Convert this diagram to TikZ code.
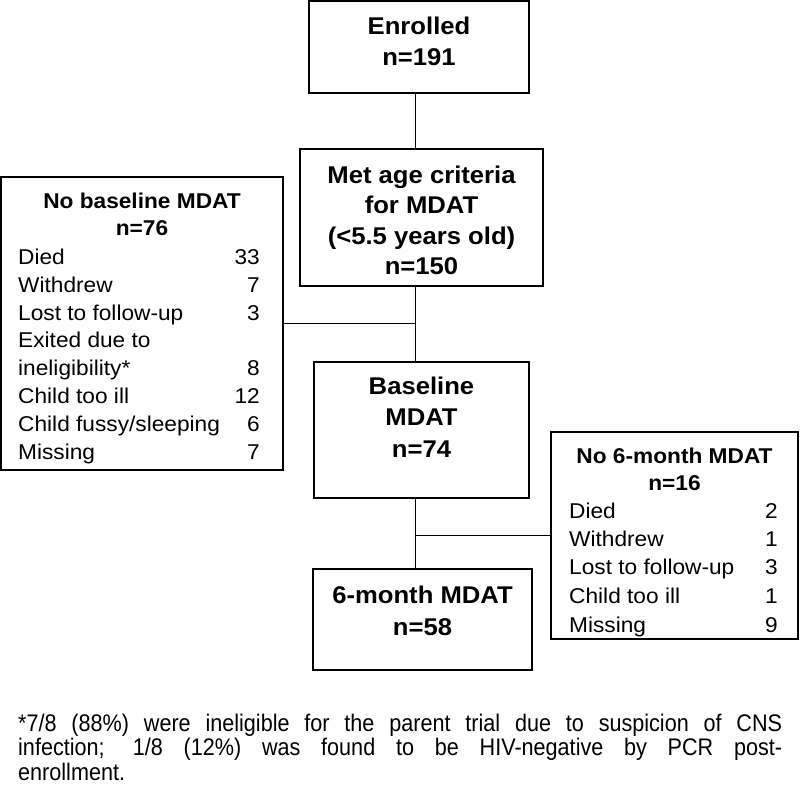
\documentclass[tikz,border=0pt]{standalone}
\usepackage{fontspec}
\setmainfont{Liberation Sans}[FakeStretch=1.06]
\newfontfamily\footfont{Liberation Sans}[FakeStretch=0.9]
\begin{document}
\begin{tikzpicture}[x=1pt,y=-1pt,
  box/.style={draw, line width=1.9pt, inner sep=0pt},
  conn/.style={line width=1.9pt},
  maintxt/.style={font=\fontsize{24.2}{29}\bfseries\selectfont, anchor=base, inner sep=0pt},
  sidetitle/.style={font=\fontsize{21.4}{28}\bfseries\selectfont, anchor=base, inner sep=0pt},
  sideitem/.style={font=\fontsize{21.4}{28}\selectfont, anchor=base west, inner sep=0pt},
  sidenum/.style={font=\fontsize{21.4}{28}\selectfont, anchor=base east, inner sep=0pt},
  foot/.style={font=\footfont\fontsize{24}{24}\selectfont, anchor=base west, inner sep=0pt}]
\useasboundingbox (0,0) rectangle (800,785);

% boxes
\node[box, minimum width=220pt, minimum height=92pt] (enr) at (419,47) {};
\node[box, minimum width=243pt, minimum height=137pt] (met) at (421.5,217.5) {};
\node[box, minimum width=282pt, minimum height=293pt] (left) at (142,323.5) {};
\node[box, minimum width=215pt, minimum height=136pt] (base) at (421.5,430) {};
\node[box, minimum width=219pt, minimum height=101pt] (six) at (422.5,619.5) {};
\node[box, minimum width=247pt, minimum height=207pt] (right) at (674.5,535.5) {};

% connectors
\coordinate (sp) at (415.5,0);
\draw[conn] (enr.south -| sp) -- (met.north -| sp);
\draw[conn] (met.south -| sp) -- (base.north -| sp);
\draw[conn] (left.east) -- (left.east -| sp);
\draw[conn] (base.south -| sp) -- (six.north -| sp);
\draw[conn] (right.west) -- (right.west -| sp);

% main box texts
\node[maintxt] (enr1) at (419,34) {Enrolled};
\node[maintxt] (enr2) at (419,65) {n=191};
\node[maintxt] (met1) at (421.5,183) {Met age criteria};
\node[maintxt] (met2) at (421.5,213.5) {for MDAT};
\node[maintxt] (met3) at (421.5,244) {(<5.5 years old)};
\node[maintxt] (met4) at (421.5,274.5) {n=150};
\node[maintxt] (bas1) at (421.5,394) {Baseline};
\node[maintxt] (bas2) at (421.5,425) {MDAT};
\node[maintxt] (bas3) at (421.5,457) {n=74};
\node[maintxt] (six1) at (422.5,603) {6-month MDAT};
\node[maintxt] (six2) at (422.5,635) {n=58};

% left side box
\node[sidetitle] (lt1) at (142,208) {No baseline MDAT};
\node[sidetitle] (lt2) at (142,235.5) {n=76};
\foreach \t/\v/\y in {Died/33/264, Withdrew/7/292, Lost to follow-up/3/320,
    Exited due to//347.5, ineligibility*/8/375.5, Child too ill/12/403,
    {Child fussy\slash sleeping}/6/431, Missing/7/459}{
  \node[sideitem] (li\y) at (18,\y) {\t};
  \node[sidenum] (ln\y) at (260,\y) {\v};
}

% right side box
\node[sidetitle] (rt1) at (674.5,463) {No 6-month MDAT};
\node[sidetitle] (rt2) at (674.5,490.5) {n=16};
\foreach \t/\v/\y in {Died/2/518.5, Withdrew/1/546.5, Lost to follow-up/3/574.5,
    Child too ill/1/603, Missing/9/632}{
  \node[sideitem] (ri\y) at (569,\y) {\t};
  \node[sidenum] (rn\y) at (778,\y) {\v};
}

% footnote
\node[foot] (f1) at (18,731) {\makebox[764pt][s]{*7/8 (88\%) were ineligible for the parent trial due to suspicion of CNS}};
\node[foot] (f2) at (18,755.5) {\makebox[764pt][s]{infection; 1/8 (12\%) was found to be HIV-negative by PCR post-}};
\node[foot] (f3) at (18,780) {enrollment.};
\end{tikzpicture}
\end{document}
